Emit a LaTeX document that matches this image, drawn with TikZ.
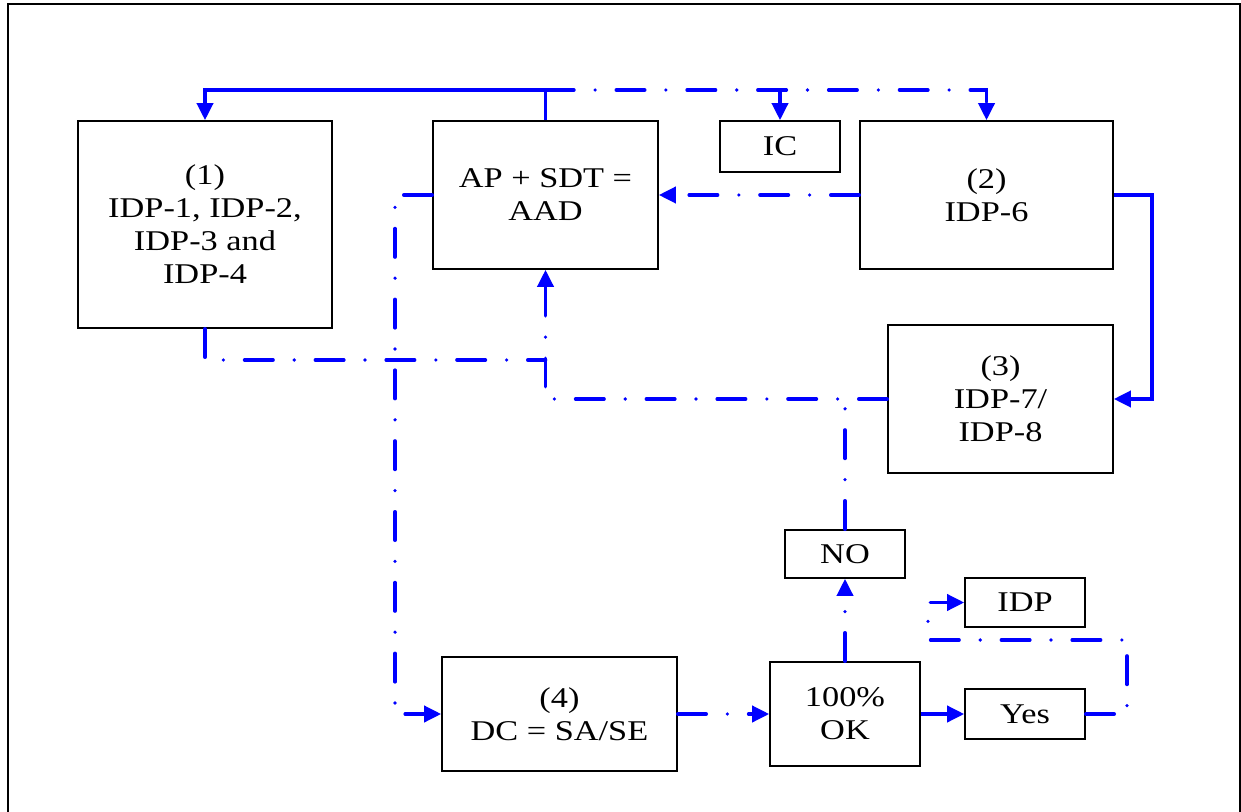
\documentclass[tikz,border=0pt]{standalone}
\usepackage{fontspec}
\setmainfont{Liberation Serif}[FakeStretch=1.2]
\usetikzlibrary{arrows.meta}
\definecolor{lineblue}{RGB}{0,0,255}
\begin{document}
\begin{tikzpicture}[x=0.5pt,y=-0.5pt,
  box/.style={draw=black,line width=0.8pt,fill=white,inner sep=0pt,align=center,
    font=\fontsize{14.3pt}{16.5pt}\selectfont},
  sl/.style={draw=lineblue,line width=1.8pt},
  dd/.style={draw=lineblue,line width=1.8pt,line cap=round,
    dash pattern=on 14.2pt off 10.6pt on 0pt off 10.6pt},
  tip/.style={-{Triangle[length=8.5pt,width=8pt]}}
]
\useasboundingbox (0,0) rectangle (1241,812);
% frame
\draw[black,line width=0.8pt] (8,830) -- (8,4) -- (1240,4) -- (1240,830);

% boxes
\node[box,minimum width=127pt,minimum height=103.5pt] (b1) at (205,224.5)
  {(1)\\IDP-1, IDP-2,\\IDP-3 and\\IDP-4};
\node[box,minimum width=112.5pt,minimum height=74pt] (aad) at (545.5,195)
  {AP + SDT =\\AAD};
\node[box,minimum width=60pt,minimum height=25.5pt] (ic) at (780,146.5) {IC};
\node[box,minimum width=126.5pt,minimum height=74pt] (b2) at (986.5,195)
  {(2)\\IDP-6};
\node[box,minimum width=112.5pt,minimum height=74pt] (b3) at (1000.5,399)
  {(3)\\IDP-7/\\IDP-8};
\node[box,minimum width=60pt,minimum height=24pt] (no) at (845,554) {NO};
\node[box,minimum width=60pt,minimum height=24.5pt] (idp) at (1025,602.5) {IDP};
\node[box,minimum width=117.5pt,minimum height=57pt] (b4) at (559.5,714)
  {(4)\\DC = SA/SE};
\node[box,minimum width=75pt,minimum height=52pt] (ok) at (845,714)
  {100\%\\OK};
\node[box,minimum width=60pt,minimum height=25pt] (yes) at (1025,714) {Yes};

% helper coordinates
\coordinate (ty) at (0,90);
\coordinate (rx) at (1152,0);
\coordinate (my) at (0,360);
\coordinate (lx) at (395,0);
\coordinate (yx) at (1127,640);
\coordinate (ix) at (928,640);

% connectors
\draw[sl,tip] (aad.north) -- (aad.north |- ty) -| (b1.north);
\draw[dd,tip] (aad.north |- ty) -| (b2.north);
\draw[sl,tip] (ic.north |- ty) -- (ic.north);
\draw[dd,tip] (b2.west) -- (aad.east);
\draw[sl,tip] (b2.east) -- (b2.east -| rx) |- (b3.east);
\draw[dd,tip] (b3.west) -| (aad.south);
\draw[dd] (b1.south) |- (aad.south |- my);
\draw[dd,tip] (aad.west) -- (aad.west -| lx) |- (b4.west);
\draw[dd,tip] (b4.east) -- (ok.west);
\draw[dd,tip] (ok.north) -- (no.south);
\draw[dd] (no.north) -- (no.north |- b3.west);
\draw[sl,tip] (ok.east) -- (yes.west);
\draw[dd,tip] (yes.east) -| (yx) -- (ix) |- (idp.west);
\end{tikzpicture}
\end{document}
